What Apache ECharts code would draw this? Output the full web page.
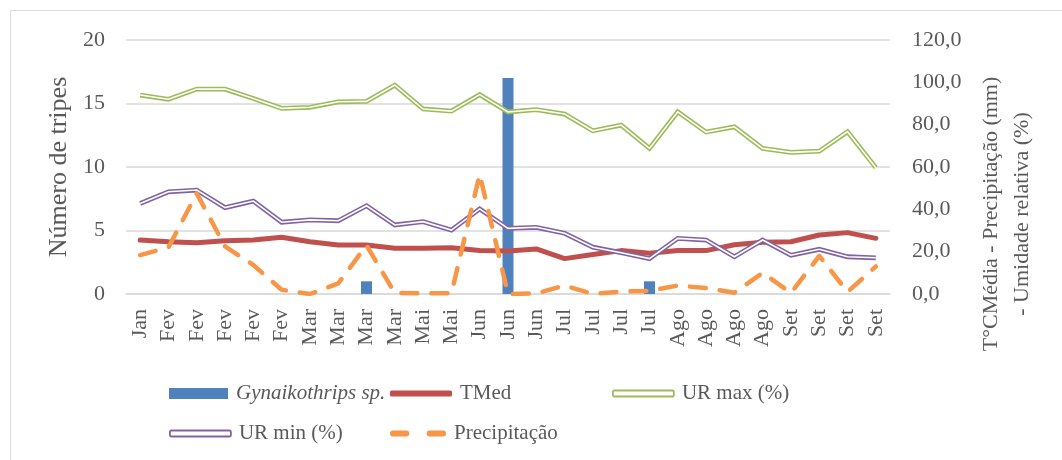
<!DOCTYPE html>
<html>
<head>
<meta charset="utf-8">
<script src="https://cdn.jsdelivr.net/npm/echarts@6/dist/echarts.min.js"></script>
<style>
  html, body { margin: 0; padding: 0; background: #fff; }
  #chart_container { width: 1062px; height: 460px; }
</style>
</head>
<body>
<div id="chart_container"></div>
<script>
var meses = ['Jan', 'Fev', 'Fev', 'Fev', 'Fev', 'Fev', 'Mar', 'Mar', 'Mar', 'Mar', 'Mai', 'Mai', 'Jun', 'Jun', 'Jun',
    'Jul', 'Jul', 'Jul', 'Jul', 'Ago', 'Ago', 'Ago', 'Ago', 'Set', 'Set', 'Set', 'Set'];
var tripes = [0, 0, 0, 0, 0, 0, 0, 0, 1, 0, 0, 0, 0, 17, 0, 0, 0, 0, 1, 0, 0, 0, 0, 0, 0, 0, 0];
var tmed = [25.5, 24.7, 24.2, 25.2, 25.5, 26.8, 24.7, 23.1, 23.1, 21.6, 21.6, 21.9, 20.5, 20.3, 21.3,
    16.7, 18.7, 20.5, 19.2, 20.5, 20.5, 23.3, 24.4, 24.7, 27.9, 29.0, 26.3];
var urMax = [94.0, 92.0, 96.8, 96.8, 92.4, 87.7, 88.2, 90.8, 91.0, 98.7, 87.4, 86.4, 94.2, 86.0, 87.1,
    85.0, 77.1, 79.8, 68.8, 86.1, 76.5, 79.0, 68.8, 66.9, 67.5, 76.7, 59.7];
var urMin = [42.8, 48.3, 49.1, 40.8, 43.9, 33.9, 35.0, 34.6, 41.7, 32.6, 34.2, 30.2, 40.2, 31.0, 31.5,
    28.7, 22.1, 19.5, 16.7, 26.3, 25.5, 17.6, 25.5, 18.3, 21.1, 17.6, 17.1];
var precip = [18.4, 22.0, 47.5, 22.5, 13.7, 2.0, 0, 5.0, 23.0, 0.5, 0.3, 0.3, 56.5, 0, 0.3,
    4.0, 0, 1.2, 1.5, 4.0, 2.8, 0.6, 10.0, 0.5, 18.0, 1.0, 13.0];

var fonte = "'Liberation Serif', 'Times New Roman', serif";
var cinza = '#595959';
var grade = '#d9d9d9';

var dom = document.getElementById("chart_container");
var myChart = echarts.init(dom);
var option = null;

// uma legenda por item, para alinhar em colunas como no original
function legenda(nome, left, top, item, alt, larg) {
    item.name = nome;
    return {
        data: [item],
        left: left,
        top: top,
        itemWidth: larg || 60,
        itemHeight: alt,
        itemGap: 0,
        selectedMode: false,
        textStyle: { fontFamily: fonte, fontSize: 21, color: cinza, padding: [0, 0, 0, 3] }
    };
}

option = {
    animation: false,
    textStyle: { fontFamily: fonte },
    graphic: [
        {
            type: 'rect',
            shape: { x: 10.5, y: 10.5, width: 1100, height: 500 },
            style: { fill: 'none', stroke: grade, lineWidth: 1 },
            silent: true
        },
        {
            type: 'text',
            x: 1007,
            y: 214,
            rotation: Math.PI / 2,
            style: {
                text: 'T°CMédia - Precipitação (mm)\n- Umidade relativa (%)',
                font: '22px ' + fonte,
                fill: cinza,
                align: 'center',
                verticalAlign: 'middle',
                lineHeight: 31
            }
        }
    ],
    legend: [
        legenda('Gynaikothrips sp.', 164, 378,
            { icon: 'rect', itemStyle: { color: '#4f81bd' }, textStyle: { fontStyle: 'italic' } }, 11, 59),
        legenda('TMed', 385, 378,
            { icon: 'roundRect', itemStyle: { color: '#c0504d' } }, 6, 62),
        legenda('UR max (%)', 607, 378,
            { icon: 'roundRect', itemStyle: { color: '#fff', borderColor: '#9bbb59', borderWidth: 1.8 } }, 6, 61),
        legenda('UR min (%)', 164, 418,
            { icon: 'roundRect', itemStyle: { color: '#fff', borderColor: '#8064a2', borderWidth: 1.8 } }, 6, 61),
        legenda('Precipitação', 385, 418,
            { icon: 'path://M3,0h14a3,3 0 0 1 0,6h-14a3,3 0 0 1 0,-6z M41,0h14a3,3 0 0 1 0,6h-14a3,3 0 0 1 0,-6z',
              itemStyle: { color: '#f79646' } }, 6, 56)
    ],
    grid: {
        left: 126,
        right: 172,
        top: 40,
        bottom: 166
    },
    xAxis: {
        type: 'category',
        data: meses,
        axisTick: { show: false },
        axisLine: { lineStyle: { color: grade, width: 1.5 } },
        axisLabel: {
            interval: 0,
            rotate: 90,
            margin: 15,
            fontFamily: fonte,
            fontSize: 22,
            color: cinza
        }
    },
    yAxis: [
        {
            type: 'value',
            min: 0,
            max: 20,
            interval: 5,
            name: 'Número de tripes',
            nameLocation: 'middle',
            nameRotate: 90,
            nameGap: 52,
            nameTextStyle: { fontFamily: fonte, fontSize: 26, color: cinza },
            axisLine: { show: false },
            axisTick: { show: false },
            axisLabel: { margin: 21, fontFamily: fonte, fontSize: 22, color: cinza },
            splitLine: { lineStyle: { color: grade, width: 1.5 } }
        },
        {
            type: 'value',
            min: 0,
            max: 120,
            interval: 20,
            position: 'right',
            axisLine: { show: false },
            axisTick: { show: false },
            splitLine: { show: false },
            axisLabel: {
                margin: 22,
                fontFamily: fonte,
                fontSize: 22,
                color: cinza,
                formatter: function (v) { return v.toFixed(1).replace('.', ','); }
            }
        }
    ],
    series: [
        {
            name: 'Gynaikothrips sp.',
            type: 'bar',
            yAxisIndex: 0,
            barWidth: 11,
            itemStyle: { color: '#4f81bd' },
            data: tripes,
            z: 1
        },
        {
            name: 'TMed',
            type: 'line',
            yAxisIndex: 1,
            symbol: 'none',
            lineStyle: { color: '#c0504d', width: 5, cap: 'round', join: 'round' },
            itemStyle: { color: '#c0504d' },
            data: tmed,
            z: 2
        },
        {
            name: 'UR max (%)',
            type: 'line',
            yAxisIndex: 1,
            symbol: 'none',
            lineStyle: { color: '#9bbb59', width: 4.8, join: 'miter' },
            itemStyle: { color: '#9bbb59' },
            data: urMax,
            z: 3
        },
        {
            name: 'urMaxInterno',
            type: 'line',
            yAxisIndex: 1,
            symbol: 'none',
            lineStyle: { color: '#fff', width: 1.6, join: 'miter' },
            data: urMax,
            z: 3
        },
        {
            name: 'UR min (%)',
            type: 'line',
            yAxisIndex: 1,
            symbol: 'none',
            lineStyle: { color: '#8064a2', width: 4.8, join: 'miter' },
            itemStyle: { color: '#8064a2' },
            data: urMin,
            z: 4
        },
        {
            name: 'urMinInterno',
            type: 'line',
            yAxisIndex: 1,
            symbol: 'none',
            lineStyle: { color: '#fff', width: 1.6, join: 'miter' },
            data: urMin,
            z: 4
        },
        {
            name: 'Precipitação',
            type: 'line',
            yAxisIndex: 1,
            symbol: 'none',
            lineStyle: { color: '#f79646', width: 4.5, type: [16, 14], cap: 'round', join: 'round' },
            itemStyle: { color: '#f79646' },
            data: precip,
            z: 5
        }
    ]
};

if (option && typeof option === "object") {
    myChart.setOption(option, true);
}
</script>
</body>
</html>
